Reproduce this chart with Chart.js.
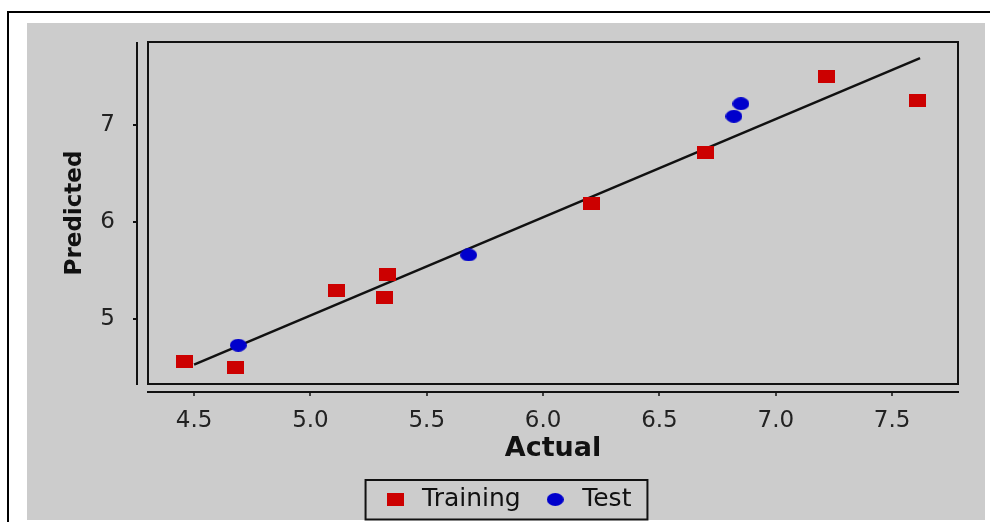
<!DOCTYPE html>
<html>
<head>
<meta charset="utf-8">
<script src="https://cdn.jsdelivr.net/npm/chart.js@4.4.1/dist/chart.umd.min.js"></script>
<style>
    html, body { margin: 0; padding: 0; background: #fff; }
    #wrap { width: 990px; height: 522px; }
</style>
</head>
<body>
<div id="wrap"><canvas id="chart" width="990" height="522"></canvas></div>
<script>
// --- Datos ---
const trainActual    = [4.46, 4.68, 5.11, 5.32, 5.33, 6.21, 6.70, 7.22, 7.61];
const trainPredicted = [4.56, 4.50, 5.29, 5.22, 5.46, 6.19, 6.72, 7.50, 7.25];
const testActual     = [4.69, 5.68, 6.82, 6.85];
const testPredicted  = [4.73, 5.66, 7.09, 7.22];
const fitActual      = [4.50, 7.62];
const fitPredicted   = [4.53, 7.69];
const xTicks = [4.5, 5.0, 5.5, 6.0, 6.5, 7.0, 7.5];
const yTicks = [5, 6, 7];
const seriesNames = ['Training', 'Test'];

Chart.defaults.font.family = "'DejaVu Sans', sans-serif";
Chart.defaults.color = '#222';

// marcadores: cuadrado rojo y elipse azul (la figura está algo estirada en horizontal)
const makeMarker = (w, h, color, round) => {
    const c = document.createElement('canvas');
    c.width = w;
    c.height = h;
    const g = c.getContext('2d');
    g.fillStyle = color;
    if (round) {
        g.beginPath();
        g.ellipse(w / 2, h / 2, w / 2, h / 2, 0, 0, Math.PI * 2);
        g.fill();
    } else {
        g.fillRect(0, 0, w, h);
    }
    return c;
};
const redSquare = makeMarker(17, 13, '#cc0000', false);
const blueDot = makeMarker(17, 13, '#0000cc', true);

const toPoints = (xs, ys) => xs.map((x, i) => ({ x: x, y: ys[i] }));

// fondo, marco, caja del gráfico, ejes separados y recuadro de la leyenda
const framePlugin = {
    id: 'frame',
    beforeDraw(chart) {
        const ctx = chart.ctx;
        ctx.save();
        ctx.fillStyle = '#fff';
        ctx.fillRect(0, 0, chart.width, chart.height);
        ctx.fillStyle = '#cccccc';
        ctx.fillRect(27, 23, 958, 497);
        ctx.strokeStyle = '#000';
        ctx.lineWidth = 2;
        ctx.beginPath();
        ctx.moveTo(8, chart.height);
        ctx.lineTo(8, 12);
        ctx.lineTo(chart.width, 12);
        ctx.stroke();
        ctx.restore();
    },
    beforeDatasetsDraw(chart) {
        const { ctx, chartArea: a, scales } = chart;
        ctx.save();
        ctx.strokeStyle = '#111';
        ctx.lineWidth = 2;
        ctx.strokeRect(a.left, a.top, a.right - a.left, a.bottom - a.top);

        // eje Y
        const yx = a.left - 11;
        ctx.beginPath();
        ctx.moveTo(yx, a.top);
        ctx.lineTo(yx, a.bottom + 1);
        yTicks.forEach(v => {
            const py = Math.round(scales.y.getPixelForValue(v));
            ctx.moveTo(yx - 4, py);
            ctx.lineTo(yx, py);
        });
        // eje X
        const xy = a.bottom + 8;
        ctx.moveTo(a.left - 1, xy);
        ctx.lineTo(a.right + 1, xy);
        ctx.stroke();
        ctx.lineWidth = 1.5;
        ctx.beginPath();
        xTicks.forEach(v => {
            const px = Math.round(scales.x.getPixelForValue(v));
            ctx.moveTo(px, xy);
            ctx.lineTo(px, xy + 4);
        });
        ctx.stroke();
        ctx.restore();
    },
    afterDraw(chart) {
        const legend = chart.legend;
        if (!legend || !legend.legendHitBoxes.length) return;
        const boxes = legend.legendHitBoxes;
        const left = Math.min(...boxes.map(b => b.left)) - 15;
        const right = Math.max(...boxes.map(b => b.left + b.width)) + 16;
        const cy = boxes[0].top + boxes[0].height / 2;
        const ctx = chart.ctx;
        ctx.save();
        ctx.strokeStyle = '#111';
        ctx.lineWidth = 2;
        ctx.strokeRect(left, cy - 19.5, right - left, 39.5);
        ctx.restore();
    }
};

new Chart(document.getElementById('chart'), {
    type: 'scatter',
    data: {
        datasets: [
            {
                label: seriesNames[0],
                data: toPoints(trainActual, trainPredicted),
                pointStyle: redSquare,
                backgroundColor: '#cc0000',
                borderColor: '#cc0000'
            },
            {
                label: seriesNames[1],
                data: toPoints(testActual, testPredicted),
                pointStyle: blueDot,
                backgroundColor: '#0000cc',
                borderColor: '#0000cc'
            },
            {
                type: 'line',
                label: 'fit',
                data: toPoints(fitActual, fitPredicted),
                showLine: true,
                borderColor: '#111',
                borderWidth: 2.5,
                pointRadius: 0,
                fill: false
            }
        ]
    },
    options: {
        responsive: false,
        animation: false,
        layout: { padding: { top: 42, left: 27, right: 5, bottom: 0 } },
        plugins: {
            tooltip: { enabled: false },
            legend: {
                position: 'bottom',
                labels: {
                    usePointStyle: true,
                    pointStyleWidth: 29,
                    padding: 20,
                    color: '#111',
                    font: { size: 25 },
                    filter: (item) => item.datasetIndex < 2
                }
            }
        },
        scales: {
            x: {
                type: 'linear',
                min: 4.302,
                max: 7.783,
                afterBuildTicks: (scale) => { scale.ticks = xTicks.map(v => ({ value: v })); },
                afterFit: (scale) => { scale.height = 83; },
                grid: { display: false },
                border: { display: false },
                ticks: {
                    padding: 15,
                    font: { size: 23 },
                    color: '#222',
                    callback: (v) => Number(v).toFixed(1)
                },
                title: {
                    display: true,
                    text: 'Actual',
                    color: '#111',
                    font: { size: 27, weight: 'bold' },
                    padding: { top: 0, bottom: 2 }
                }
            },
            y: {
                type: 'linear',
                min: 4.33,
                max: 7.856,
                afterBuildTicks: (scale) => { scale.ticks = yTicks.map(v => ({ value: v })); },
                afterFit: (scale) => { scale.width = 121; },
                grid: { display: false },
                border: { display: false },
                ticks: {
                    padding: 25,
                    font: { size: 23 },
                    color: '#222',
                    callback: (v) => String(v)
                },
                title: {
                    display: true,
                    text: 'Predicted',
                    color: '#111',
                    font: { size: 23, weight: 'bold' },
                    padding: { top: 34, bottom: 0 }
                }
            },
            // eje vacío a la derecha: solo reserva el margen del panel gris
            y2: {
                type: 'linear',
                position: 'right',
                afterFit: (scale) => { scale.width = 27; },
                grid: { display: false },
                border: { display: false },
                ticks: { display: false }
            }
        }
    },
    plugins: [framePlugin]
});
</script>
</body>
</html>
